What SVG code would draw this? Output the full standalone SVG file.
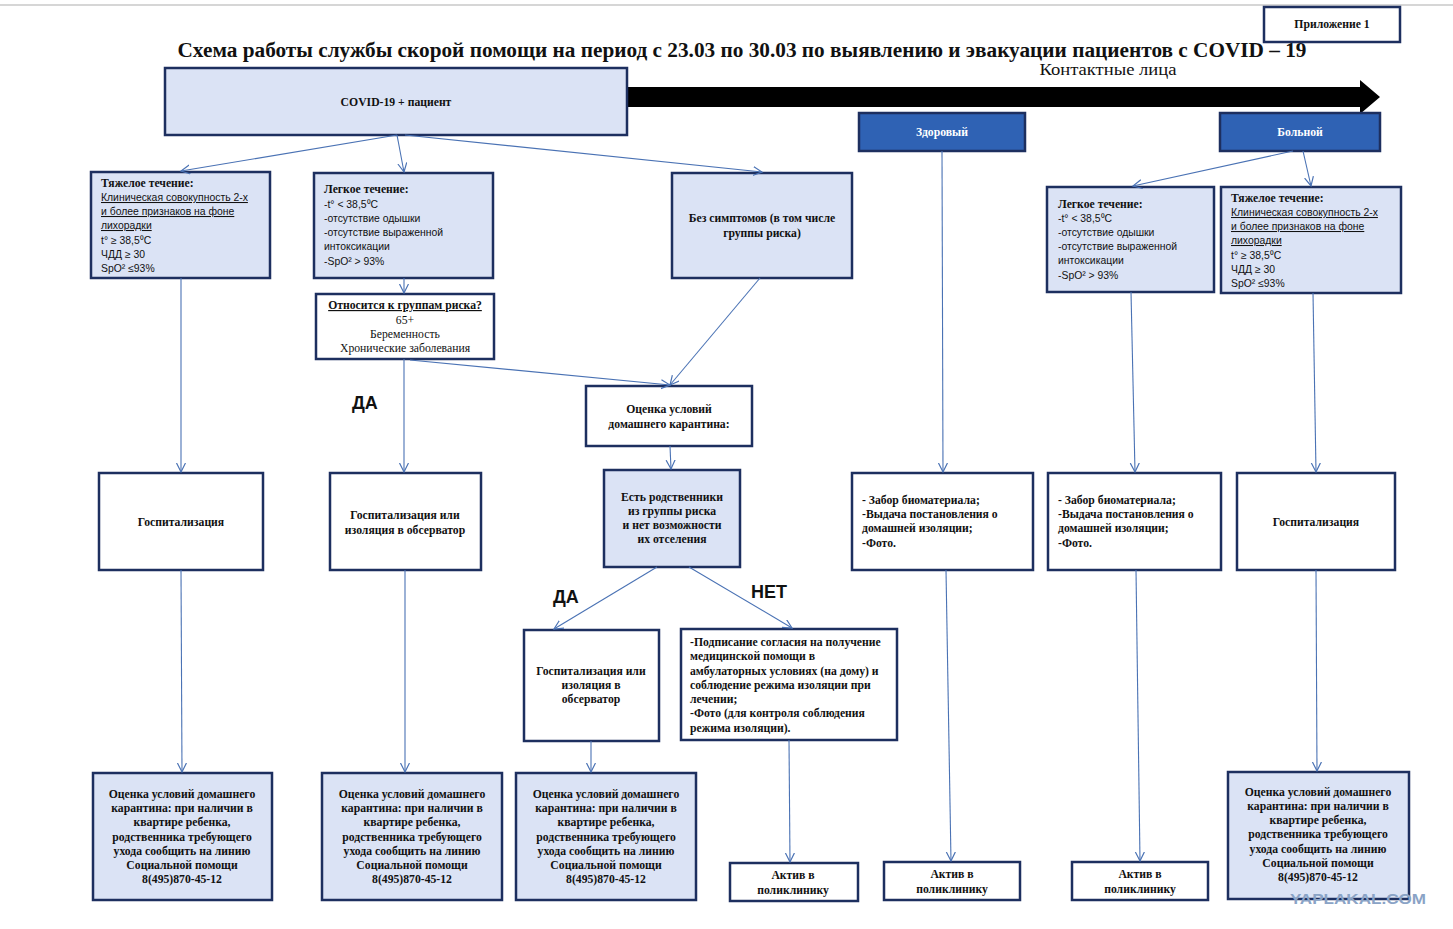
<svg xmlns="http://www.w3.org/2000/svg" width="1453" height="929" viewBox="0 0 1453 929">
<defs>
<marker id="arr" markerUnits="userSpaceOnUse" markerWidth="12" markerHeight="12" refX="9" refY="5" orient="auto">
<path d="M0,0.5 L9,5 L0,9.5" fill="none" stroke="#4a72b4" stroke-width="1.2"/>
</marker>
<style>
.box{stroke:#1d2f5f;stroke-width:2.5}
.lt{fill:#dbe3f5}
.wh{fill:#ffffff}
.dk{fill:#2f62b4}
.con line{stroke:#4a72b4;stroke-width:1.1;marker-end:url(#arr)}
.sb{font-family:"Liberation Serif","Times New Roman",serif;font-weight:bold;font-size:11.7px;fill:#111}
.sr{font-family:"Liberation Serif","Times New Roman",serif;font-size:11.7px;fill:#111}
.ss{font-family:"Liberation Sans",Arial,sans-serif;font-size:10.4px;fill:#111}
.c{text-anchor:middle}
.u{text-decoration:underline}
.lbl{font-family:"Liberation Sans",Arial,sans-serif;font-weight:bold;font-size:18px;fill:#111}
</style>
</defs>
<rect width="1453" height="929" fill="#ffffff"/>
<line x1="0" y1="5" x2="1453" y2="5" stroke="#c8c8c8" stroke-width="1.5"/>

<text x="742" y="57" text-anchor="middle" textLength="1129" lengthAdjust="spacingAndGlyphs" font-family="'Liberation Serif','Times New Roman',serif" font-weight="bold" font-size="20" fill="#111">Схема работы службы скорой помощи на период с 23.03 по 30.03 по выявлению и эвакуации пациентов с COVID – 19</text>

<g id="appendix">
<rect class="box wh" x="1264" y="7" width="136" height="35"/>
<text class="sb c" x="1332" y="28" font-size="11">Приложение 1</text>
</g>

<text x="1108" y="75" text-anchor="middle" textLength="137" lengthAdjust="spacingAndGlyphs" font-family="'Liberation Serif','Times New Roman',serif" font-size="17" fill="#111">Контактные лица</text>

<g id="contact-arrow">
<polygon points="627,87 1360,87 1360,80 1380,97 1360,114 1360,107 627,107" fill="#000"/>
</g>

<g id="covid">
<rect class="box lt" x="165" y="68" width="462" height="67"/>
<text class="sb c" x="396" y="106">COVID-19 + пациент</text>
</g>

<g id="healthy">
<rect class="box dk" x="859" y="113" width="166" height="38"/>
<text class="sb c" x="942" y="136" style="fill:#fff">Здоровый</text>
</g>

<g id="sick">
<rect class="box dk" x="1220" y="113" width="160" height="38"/>
<text class="sb c" x="1300" y="136" style="fill:#fff">Больной</text>
</g>

<g id="severe-left">
<rect class="box lt" x="91" y="172" width="179" height="106"/>
<text class="sb" x="101" y="187">Тяжелое течение:</text>
<text class="ss u" x="101" y="201">Клиническая совокупность 2-х</text>
<text class="ss u" x="101" y="215">и более признаков на фоне</text>
<text class="ss u" x="101" y="229">лихорадки</text>
<text class="ss" x="101" y="244">t° ≥ 38,5⁰C</text>
<text class="ss" x="101" y="258">ЧДД ≥ 30</text>
<text class="ss" x="101" y="272">SpO² ≤93%</text>
</g>

<g id="mild-left">
<rect class="box lt" x="314" y="173" width="179" height="105"/>
<text class="sb" x="324" y="193">Легкое течение:</text>
<text class="ss" x="324" y="208">-t° &lt; 38,5⁰C</text>
<text class="ss" x="324" y="222">-отсутствие одышки</text>
<text class="ss" x="324" y="236">-отсутствие выраженной</text>
<text class="ss" x="324" y="250">интоксикации</text>
<text class="ss" x="324" y="265">-SpO² &gt; 93%</text>
</g>

<g id="no-symptoms">
<rect class="box lt" x="672" y="173" width="180" height="105"/>
<text class="sb c" x="762" y="222">Без симптомов (в том числе</text>
<text class="sb c" x="762" y="237">группы риска)</text>
</g>

<g id="risk-group">
<rect class="box wh" x="316" y="294" width="178" height="65"/>
<text class="sb c u" x="405" y="309">Относится к группам риска?</text>
<text class="sr c" x="405" y="324">65+</text>
<text class="sr c" x="405" y="338">Беременность</text>
<text class="sr c" x="405" y="352">Хронические заболевания</text>
</g>

<g id="home-eval">
<rect class="box wh" x="586" y="386" width="166" height="60"/>
<text class="sb c" x="669" y="413">Оценка условий</text>
<text class="sb c" x="669" y="428">домашнего карантина:</text>
</g>

<g id="mild-right">
<rect class="box lt" x="1047" y="187" width="167" height="105"/>
<text class="sb" x="1058" y="208">Легкое течение:</text>
<text class="ss" x="1058" y="222">-t° &lt; 38,5⁰C</text>
<text class="ss" x="1058" y="236">-отсутствие одышки</text>
<text class="ss" x="1058" y="250">-отсутствие выраженной</text>
<text class="ss" x="1058" y="264">интоксикации</text>
<text class="ss" x="1058" y="279">-SpO² &gt; 93%</text>
</g>

<g id="severe-right">
<rect class="box lt" x="1221" y="187" width="180" height="106"/>
<text class="sb" x="1231" y="202">Тяжелое течение:</text>
<text class="ss u" x="1231" y="216">Клиническая совокупность 2-х</text>
<text class="ss u" x="1231" y="230">и более признаков на фоне</text>
<text class="ss u" x="1231" y="244">лихорадки</text>
<text class="ss" x="1231" y="259">t° ≥ 38,5⁰C</text>
<text class="ss" x="1231" y="273">ЧДД ≥ 30</text>
<text class="ss" x="1231" y="287">SpO² ≤93%</text>
</g>

<g id="hosp-left">
<rect class="box wh" x="99" y="473" width="164" height="97"/>
<text class="sb c" x="181" y="526">Госпитализация</text>
</g>

<g id="hosp-iso-left">
<rect class="box wh" x="330" y="473" width="151" height="97"/>
<text class="sb c" x="405" y="519">Госпитализация или</text>
<text class="sb c" x="405" y="534">изоляция в обсерватор</text>
</g>

<g id="relatives">
<rect class="box lt" x="604" y="470" width="136" height="97"/>
<text class="sb c" x="672" y="501">Есть родственники</text>
<text class="sb c" x="672" y="515">из группы риска</text>
<text class="sb c" x="672" y="529">и нет возможности</text>
<text class="sb c" x="672" y="543">их отселения</text>
</g>

<g id="bio-healthy">
<rect class="box wh" x="852" y="473" width="181" height="97"/>
<text class="sb" x="862" y="504">- Забор биоматериала;</text>
<text class="sb" x="862" y="518">-Выдача постановления о</text>
<text class="sb" x="862" y="532">домашней изоляции;</text>
<text class="sb" x="862" y="547">-Фото.</text>
</g>

<g id="bio-sick">
<rect class="box wh" x="1048" y="473" width="173" height="97"/>
<text class="sb" x="1058" y="504">- Забор биоматериала;</text>
<text class="sb" x="1058" y="518">-Выдача постановления о</text>
<text class="sb" x="1058" y="532">домашней изоляции;</text>
<text class="sb" x="1058" y="547">-Фото.</text>
</g>

<g id="hosp-right">
<rect class="box wh" x="1237" y="473" width="158" height="97"/>
<text class="sb c" x="1316" y="526">Госпитализация</text>
</g>

<g id="hosp-iso-yes">
<rect class="box wh" x="524" y="630" width="135" height="111"/>
<text class="sb c" x="591" y="675">Госпитализация или</text>
<text class="sb c" x="591" y="689">изоляция в</text>
<text class="sb c" x="591" y="703">обсерватор</text>
</g>

<g id="consent-no">
<rect class="box wh" x="681" y="629" width="216" height="111"/>
<text class="sb" x="690" y="646">-Подписание согласия на получение</text>
<text class="sb" x="690" y="660">медицинской помощи в</text>
<text class="sb" x="690" y="675">амбулаторных условиях (на дому) и</text>
<text class="sb" x="690" y="689">соблюдение режима изоляции при</text>
<text class="sb" x="690" y="703">лечении;</text>
<text class="sb" x="690" y="717">-Фото (для контроля соблюдения</text>
<text class="sb" x="690" y="732">режима изоляции).</text>
</g>

<g id="social-1">
<rect class="box lt" x="93" y="773" width="179" height="127"/>
<text class="sb c" x="182" y="798">Оценка условий домашнего</text>
<text class="sb c" x="182" y="812">карантина: при наличии в</text>
<text class="sb c" x="182" y="826">квартире ребенка,</text>
<text class="sb c" x="182" y="841">родственника требующего</text>
<text class="sb c" x="182" y="855">ухода сообщить на линию</text>
<text class="sb c" x="182" y="869">Социальной помощи</text>
<text class="sb c" x="182" y="883">8(495)870-45-12</text>
</g>

<g id="social-2">
<rect class="box lt" x="322" y="773" width="180" height="127"/>
<text class="sb c" x="412" y="798">Оценка условий домашнего</text>
<text class="sb c" x="412" y="812">карантина: при наличии в</text>
<text class="sb c" x="412" y="826">квартире ребенка,</text>
<text class="sb c" x="412" y="841">родственника требующего</text>
<text class="sb c" x="412" y="855">ухода сообщить на линию</text>
<text class="sb c" x="412" y="869">Социальной помощи</text>
<text class="sb c" x="412" y="883">8(495)870-45-12</text>
</g>

<g id="social-3">
<rect class="box lt" x="516" y="773" width="180" height="127"/>
<text class="sb c" x="606" y="798">Оценка условий домашнего</text>
<text class="sb c" x="606" y="812">карантина: при наличии в</text>
<text class="sb c" x="606" y="826">квартире ребенка,</text>
<text class="sb c" x="606" y="841">родственника требующего</text>
<text class="sb c" x="606" y="855">ухода сообщить на линию</text>
<text class="sb c" x="606" y="869">Социальной помощи</text>
<text class="sb c" x="606" y="883">8(495)870-45-12</text>
</g>

<g id="social-4">
<rect class="box lt" x="1228" y="772" width="181" height="127"/>
<text class="sb c" x="1318" y="796">Оценка условий домашнего</text>
<text class="sb c" x="1318" y="810">карантина: при наличии в</text>
<text class="sb c" x="1318" y="824">квартире ребенка,</text>
<text class="sb c" x="1318" y="838">родственника требующего</text>
<text class="sb c" x="1318" y="853">ухода сообщить на линию</text>
<text class="sb c" x="1318" y="867">Социальной помощи</text>
<text class="sb c" x="1318" y="881">8(495)870-45-12</text>
</g>

<g id="active-1">
<rect class="box wh" x="730" y="863" width="128" height="38"/>
<text class="sb c" x="793" y="879">Актив в</text>
<text class="sb c" x="793" y="894">поликлинику</text>
</g>

<g id="active-2">
<rect class="box wh" x="884" y="862" width="136" height="38"/>
<text class="sb c" x="952" y="878">Актив в</text>
<text class="sb c" x="952" y="893">поликлинику</text>
</g>

<g id="active-3">
<rect class="box wh" x="1072" y="862" width="136" height="38"/>
<text class="sb c" x="1140" y="878">Актив в</text>
<text class="sb c" x="1140" y="893">поликлинику</text>
</g>

<g id="labels">
<text class="lbl" x="352" y="409">ДА</text>
<text class="lbl" x="553" y="603">ДА</text>
<text class="lbl" x="751" y="598">НЕТ</text>
</g>

<g id="connectors" class="con">
<line x1="397" y1="135" x2="181" y2="171"/>
<line x1="397" y1="135" x2="404" y2="172"/>
<line x1="405" y1="135" x2="762" y2="172"/>
<line x1="404" y1="278" x2="404" y2="293"/>
<line x1="181" y1="278" x2="181" y2="472"/>
<line x1="404" y1="359" x2="404" y2="472"/>
<line x1="410" y1="360" x2="670" y2="385"/>
<line x1="760" y1="278" x2="670" y2="385"/>
<line x1="670" y1="446" x2="671" y2="469"/>
<line x1="657" y1="567" x2="554" y2="629"/>
<line x1="689" y1="567" x2="792" y2="628"/>
<line x1="591" y1="741" x2="591" y2="772"/>
<line x1="181" y1="570" x2="182" y2="772"/>
<line x1="405" y1="570" x2="405" y2="772"/>
<line x1="789" y1="740" x2="790" y2="862"/>
<line x1="942" y1="151" x2="943" y2="472"/>
<line x1="946" y1="570" x2="951" y2="861"/>
<line x1="1293" y1="151" x2="1133" y2="186"/>
<line x1="1303" y1="151" x2="1311" y2="186"/>
<line x1="1131" y1="292" x2="1135" y2="472"/>
<line x1="1313" y1="293" x2="1316" y2="472"/>
<line x1="1136" y1="570" x2="1140" y2="861"/>
<line x1="1316" y1="570" x2="1317" y2="771"/>
</g>

<text x="1358" y="904" text-anchor="middle" textLength="136" lengthAdjust="spacingAndGlyphs" font-family="'Liberation Sans',Arial,sans-serif" font-weight="bold" font-size="15" fill="#8aa3c6">YAPLAKAL.COM</text>
</svg>
